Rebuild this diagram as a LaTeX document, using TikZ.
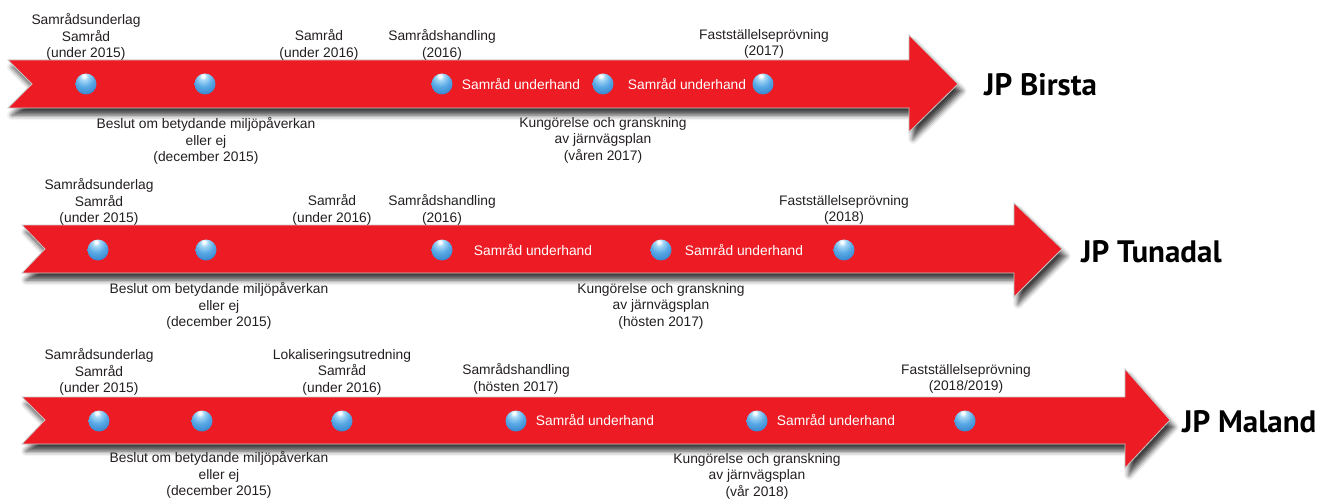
\documentclass[tikz,border=0pt]{standalone}
\usepackage{fontspec}
\setmainfont{Liberation Sans}
\newfontfamily\jpfont{PT Sans}
\usetikzlibrary{shadows.blur}
\definecolor{arrowred}{HTML}{ED1C24}
\definecolor{ballA}{HTML}{A6D8F6}
\definecolor{ballB}{HTML}{5AAAE6}
\definecolor{ballC}{HTML}{3180CC}
\definecolor{ballD}{HTML}{2562A8}
\definecolor{txt}{HTML}{231F20}
\pgfdeclareradialshading{tlball}{\pgfpoint{-5bp}{20bp}}{%
  color(0bp)=(white); color(3bp)=(white); color(9bp)=(ballA); color(22bp)=(ballB);
  color(40bp)=(ballC); color(52bp)=(ballD); color(100bp)=(ballD)}
\tikzset{
  tlarrow/.style={fill=arrowred, draw=black!22, line width=0.8pt, line join=miter,
    blur shadow={shadow xshift=4pt, shadow yshift=-7pt, shadow blur radius=5pt, shadow opacity=75}},
  ball/.style={circle, minimum size=21pt, inner sep=0pt, shading=tlball},
  lbl/.style={align=center, inner sep=0pt, font=\fontsize{13.8}{16.5}\selectfont, text=txt},
  inlbl/.style={inner sep=0pt, font=\fontsize{13.8}{16.5}\selectfont, text=white},
  jp/.style={inner sep=0pt, anchor=base west, font=\jpfont\bfseries\fontsize{31}{36}\selectfont, text=black},
}
\begin{document}
\begin{tikzpicture}[x=1pt, y=-1pt]
\useasboundingbox (0,0) rectangle (1318,500);

% ---------- JP Birsta ----------
\path[tlarrow] (8,60) -- (909,60) -- (909,35) -- (958,84) -- (909,132) -- (909,108) -- (8,108) -- (32,84) -- cycle;
\node[ball] (b1) at (86,84) {};
\node[ball] (b2) at (205,84) {};
\node[ball] (b3) at (442,84) {};
\node[ball] (b4) at (603,84) {};
\node[ball] (b5) at (763,84) {};
\node[inlbl] (bs1) at (521,84) {Samråd underhand};
\node[inlbl] (bs2) at (687,84) {Samråd underhand};
\node[lbl] (bt1) at (86,37) {Samrådsunderlag\\Samråd\\(under 2015)};
\node[lbl] (bt2) at (319,45) {Samråd\\(under 2016)};
\node[lbl] (bt3) at (442,45) {Samrådshandling\\(2016)};
\node[lbl] (bt4) at (764,44) {Fastställelseprövning\\(2017)};
\node[lbl] (bb1) at (206,141) {Beslut om betydande miljöpåverkan\\eller ej\\(december 2015)};
\node[lbl] (bb2) at (603,140) {Kungörelse och granskning\\av järnvägsplan\\(våren 2017)};
\node[jp] (bn) at (984,96) {JP Birsta};

% ---------- JP Tunadal ----------
\path[tlarrow] (22,225) -- (1014,225) -- (1014,203) -- (1062,249) -- (1014,297) -- (1014,273) -- (22,273) -- (45,249) -- cycle;
\node[ball] (t1) at (98,250) {};
\node[ball] (t2) at (206,250) {};
\node[ball] (t3) at (442,250) {};
\node[ball] (t4) at (661,250) {};
\node[ball] (t5) at (844,250) {};
\node[inlbl] (ts1) at (533,250) {Samråd underhand};
\node[inlbl] (ts2) at (744,250) {Samråd underhand};
\node[lbl] (tt1) at (99,202) {Samrådsunderlag\\Samråd\\(under 2015)};
\node[lbl] (tt2) at (332,210) {Samråd\\(under 2016)};
\node[lbl] (tt3) at (442,210) {Samrådshandling\\(2016)};
\node[lbl] (tt4) at (844,210) {Fastställelseprövning\\(2018)};
\node[lbl] (tb1) at (219,306) {Beslut om betydande miljöpåverkan\\eller ej\\(december 2015)};
\node[lbl] (tb2) at (661,306) {Kungörelse och granskning\\av järnvägsplan\\(hösten 2017)};
\node[jp] (tn) at (1081,262) {JP Tunadal};

% ---------- JP Maland ----------
\path[tlarrow] (22,397) -- (1125,397) -- (1125,369) -- (1170,420) -- (1125,468) -- (1125,444) -- (22,444) -- (45,420) -- cycle;
\node[ball] (m1) at (99,421) {};
\node[ball] (m2) at (202,421) {};
\node[ball] (m3) at (342,421) {};
\node[ball] (m4) at (516,421) {};
\node[ball] (m5) at (757,421) {};
\node[ball] (m6) at (965,421) {};
\node[inlbl] (ms1) at (595,420) {Samråd underhand};
\node[inlbl] (ms2) at (836,420) {Samråd underhand};
\node[lbl] (mt1) at (99,372) {Samrådsunderlag\\Samråd\\(under 2015)};
\node[lbl] (mt2) at (342,372) {Lokaliseringsutredning\\Samråd\\(under 2016)};
\node[lbl] (mt3) at (516,379) {Samrådshandling\\(hösten 2017)};
\node[lbl] (mt4) at (966,379) {Fastställelseprövning\\(2018/2019)};
\node[lbl] (mb1) at (219,475) {Beslut om betydande miljöpåverkan\\eller ej\\(december 2015)};
\node[lbl] (mb2) at (757,476) {Kungörelse och granskning\\av järnvägsplan\\(vår 2018)};
\node[jp] (mn) at (1182,432) {JP Maland};
\end{tikzpicture}
\end{document}
